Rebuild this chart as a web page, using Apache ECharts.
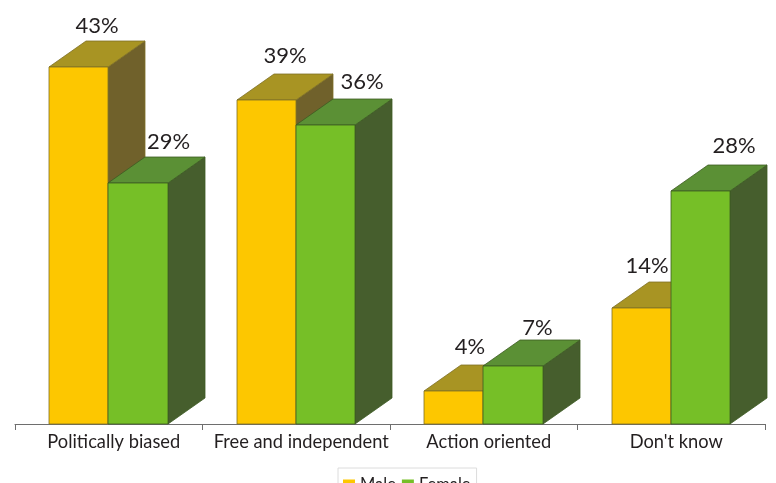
<!DOCTYPE html>
<html><head><meta charset="utf-8">
<style>html,body{margin:0;padding:0;background:#fff;overflow:hidden}#c{width:776px;height:483px}</style>
<script src="https://cdn.jsdelivr.net/npm/echarts@6/dist/echarts.min.js"></script>
</head><body><div id="c"></div>
<script>
const categories = ["Politically biased","Free and independent","Action oriented","Don't know"];
const male = [43,39,4,14];
const female = [29,36,7,28];
const FONT = 'Lato, "Open Sans", sans-serif';

const looks = {
  Male:   {front:'#FDC700', top:'#A89423', side:'#70612B', edge:'#7d6f24', shift:-1, nudge:[0,0,-2,-13], lift:[-1,-4,-4,-2]},
  Female: {front:'#76BF27', top:'#5B9035', side:'#465E2D', edge:'#3c5a22', shift:0,  nudge:[12,18,6,15], lift:[-1,-3,2,-5]}
};
function render(name){
  const k = looks[name];
  return function(params, api){
    const i = api.value(0), v = api.value(1);
    const p = api.coord([i, v]), b = api.coord([i, 0]);
    const band = api.size([1,0])[0];
    const w = band*0.318, dx = Math.round(band*0.197), dy = Math.round(band*0.139);
    const x0 = k.shift<0 ? Math.round(p[0]-w) : Math.floor(p[0]);
    const x1 = k.shift<0 ? Math.floor(p[0]) : Math.round(p[0]+w-0.4);
    const yt = Math.round(p[1]), yb = Math.round(b[1]);
    const st = {stroke:k.edge, lineWidth:0.8};
    return {type:'group', children:[
      {type:'polygon', shape:{points:[[x1,yt],[x1+dx,yt-dy],[x1+dx,yb-dy],[x1,yb]]}, style:{fill:k.side, ...st}},
      {type:'polygon', shape:{points:[[x0,yt],[x0+dx,yt-dy],[x1+dx,yt-dy],[x1,yt]]}, style:{fill:k.top, ...st}},
      {type:'rect', shape:{x:x0,y:yt,width:x1-x0,height:yb-yt}, style:{fill:k.front, ...st}},
      {type:'text', z2:50, style:{x:(x0+x1+dx)/2+k.nudge[i], y:yt-dy-3+k.lift[i], text:v+'%', fill:'#231F20',
        font:'22px '+FONT, align:'center', verticalAlign:'bottom'}}
    ]};
  };
}
const chart = echarts.init(document.getElementById('c'), null, {renderer:'canvas'});
chart.setOption({
  animation:false,
  backgroundColor:'#fff',
  grid:{left:15,right:11,top:8.5,bottom:59},
  legend:{
    data:['Male','Female'], left:338, top:468, padding:[8,6,7,5],
    borderColor:'#dcdcdc', borderWidth:1, backgroundColor:'#fff',
    itemWidth:12, itemHeight:10, itemGap:6, icon:'rect',
    textStyle:{fontFamily:FONT, fontSize:16.5, color:'#231F20', padding:[3,0,0,0]}
  },
  xAxis:{type:'category', data:categories,
    axisLine:{lineStyle:{color:'#6e6e6e',width:1}},
    axisTick:{show:true,length:6,alignWithLabel:false,lineStyle:{color:'#6e6e6e'}},
    axisLabel:{fontFamily:FONT,fontSize:18.3,color:'#231F20',margin:9,interval:0,padding:[0,0,0,10]}
  },
  yAxis:{type:'value',min:0,max:50,show:false},
  series:[
    {name:'Male',type:'custom',data:male.map((v,i)=>[i,v]),renderItem:render('Male'),itemStyle:{color:looks.Male.front},clip:false,z:2},
    {name:'Female',type:'custom',data:female.map((v,i)=>[i,v]),renderItem:render('Female'),itemStyle:{color:looks.Female.front},clip:false,z:3}
  ]
});
</script></body></html>
